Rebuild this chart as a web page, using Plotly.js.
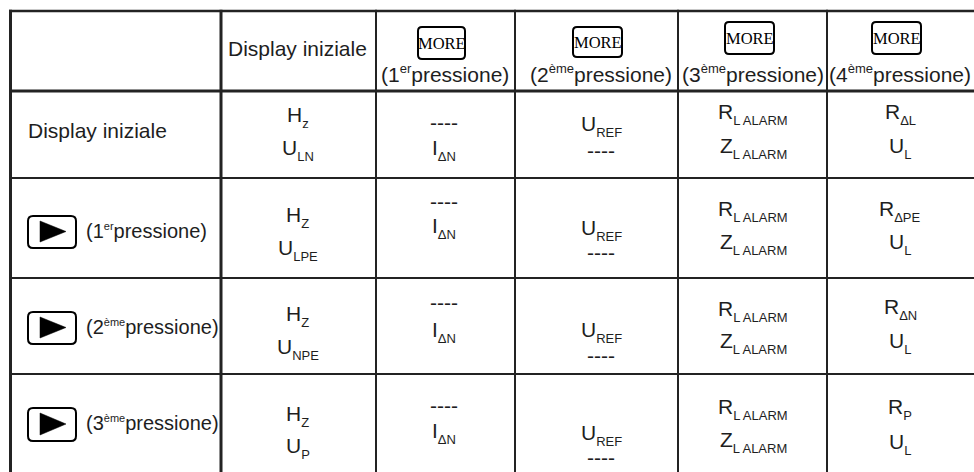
<!DOCTYPE html>
<html><head><meta charset="utf-8">
<script src="https://cdn.plot.ly/plotly-3.0.1.min.js"></script>
<style>html,body{margin:0;padding:0;background:#fff;}#chart{width:974px;height:472px;}</style>
</head><body><div id="chart"></div>
<script>
// ---------- content ----------
const firstStateLabel = 'Display iniziale';
const keyName = 'MORE';
const pressWord = 'pressione';
const headerOrdinals = ['1', '2', '3', '4'];
const headerSuffixes = ['er', 'ème', 'ème', 'ème'];
const rowOrdinals = ['1', '2', '3'];
const rowSuffixes = ['er', 'ème', 'ème'];
const cellsRow1 = [['H_z', 'U_LN'], ['----', 'I_ΔN'], ['U_REF', '----'], ['R_L ALARM', 'Z_L ALARM'], ['R_ΔL', 'U_L']];
const cellsRow2 = [['H_Z', 'U_LPE'], ['----', 'I_ΔN'], ['U_REF', '----'], ['R_L ALARM', 'Z_L ALARM'], ['R_ΔPE', 'U_L']];
const cellsRow3 = [['H_Z', 'U_NPE'], ['----', 'I_ΔN'], ['U_REF', '----'], ['R_L ALARM', 'Z_L ALARM'], ['R_ΔN', 'U_L']];
const cellsRow4 = [['H_Z', 'U_P'], ['----', 'I_ΔN'], ['U_REF', '----'], ['R_L ALARM', 'Z_L ALARM'], ['R_P', 'U_L']];
const bodyRows = [cellsRow1, cellsRow2, cellsRow3, cellsRow4];

// ---------- layout constants (positions / styles) ----------
const W = 974, H = 472;
const INK = '#1e1e1e';
const LINE = '#232323';
const SANS = '"Liberation Sans", Arial, sans-serif';
const SERIF = '"Liberation Serif", "Times New Roman", serif';
const hLines = [[11, 2.5], [91, 3], [178, 2], [278, 2], [374, 2]];
const vLines = [[10.5, 3], [221, 3], [376, 2], [515, 2], [678, 2], [827, 2]];
const colCenters = [297.5, 444, 601, 753, 900];
const lineYs = [
  [[114.5, 148], [124, 148], [123.5, 152], [112, 145.5], [112, 145.5]],
  [[214.5, 247.5], [203, 226], [227.5, 254], [209, 242], [209, 242]],
  [[313.5, 347], [304, 329.5], [329.5, 357], [309, 340.5], [306.5, 340.5]],
  [[413.5, 446], [407, 430.5], [433, 459], [407, 440], [407, 442]]
];
const keyBoxes = [[418, 27, 465, 59], [573, 27, 622, 57], [725, 22, 774, 54], [872, 22, 921, 54]];
const headerLine2X = [445, 600.5, 753, 900];
const headerLine2Y = 74.5;
const playBoxes = [[28, 216, 76, 248], [28, 312, 76, 344], [28, 408, 76, 441]];

function subFmt(s) {
  const i = s.indexOf('_');
  if (i < 0) return s;
  return s.slice(0, i) + '<span style="font-size:28px"><sub><span style="font-family:\'Liberation Sans Narrow\',\'Liberation Sans\',sans-serif;font-size:13px">' +
    s.slice(i + 1) + '</span></sub></span>';
}
function supFmt(ord, suf, size) {
  return '(' + ord + '<sup><span style="font-size:' + size + 'px">' + suf + '</span></sup>' + pressWord + ')';
}
function roundRect(b, r) {
  const [x0, y0, x1, y1] = b;
  return `M ${x0 + r},${y0} L ${x1 - r},${y0} Q ${x1},${y0} ${x1},${y0 + r} L ${x1},${y1 - r} Q ${x1},${y1} ${x1 - r},${y1} ` +
    `L ${x0 + r},${y1} Q ${x0},${y1} ${x0},${y1 - r} L ${x0},${y0 + r} Q ${x0},${y0} ${x0 + r},${y0} Z`;
}

const shapes = [];
const annotations = [];

// grid lines
hLines.forEach(([y, w]) => shapes.push({type: 'line', xref: 'x', yref: 'y', x0: 9, x1: W, y0: y, y1: y, line: {color: LINE, width: w}}));
vLines.forEach(([x, w]) => shapes.push({type: 'line', xref: 'x', yref: 'y', x0: x, x1: x, y0: 9.75, y1: H, line: {color: LINE, width: w}}));

// header
annotations.push({x: colCenters[0], y: 48.5, text: firstStateLabel, font: {family: SANS, size: 21, color: INK}});
keyBoxes.forEach((b, i) => {
  shapes.push({type: 'path', xref: 'x', yref: 'y', path: roundRect(b, 4), line: {color: '#000', width: 2}});
  annotations.push({x: (b[0] + b[2]) / 2, y: (b[1] + b[3]) / 2, text: keyName, font: {family: SERIF, size: 16.5, color: '#000'}});
  annotations.push({x: headerLine2X[i], y: headerLine2Y - 0.6, text: supFmt(headerOrdinals[i], headerSuffixes[i], 13),
    font: {family: SANS, size: 21, color: INK}});
});

// row labels
annotations.push({x: 26, y: 130, xanchor: 'left', text: firstStateLabel, font: {family: SANS, size: 21, color: INK}});
playBoxes.forEach((b, i) => {
  shapes.push({type: 'path', xref: 'x', yref: 'y', path: roundRect(b, 5), line: {color: '#000', width: 2}});
  const cy = (b[1] + b[3]) / 2;
  shapes.push({type: 'path', xref: 'x', yref: 'y', path: `M 40,${b[1] + 5} L 66,${cy - 0.5} L 40,${b[3] - 6} Z`,
    fillcolor: '#000', line: {color: '#000', width: 0.5}});
  annotations.push({x: 84, y: cy - 1.4, xanchor: 'left', text: supFmt(rowOrdinals[i], rowSuffixes[i], 11),
    font: {family: SANS, size: 20, color: INK}});
});

// body cells
bodyRows.forEach((row, r) => {
  row.forEach((cell, c) => {
    cell.forEach((txt, k) => {
      const yy = lineYs[r][c][k];
      const isDash = txt.indexOf('_') < 0;
      annotations.push({x: colCenters[c], y: isDash ? yy - 1.6 : yy + 2.3, text: subFmt(txt),
        font: {family: SANS, size: 21, color: INK}});
    });
  });
});

annotations.forEach(a => { a.xref = 'x'; a.yref = 'y'; a.showarrow = false; if (!a.xanchor) a.xanchor = 'center'; a.yanchor = 'middle'; });

const layout = {
  width: W, height: H,
  margin: {l: 0, r: 0, t: 0, b: 0, pad: 0},
  paper_bgcolor: '#fff', plot_bgcolor: '#fff',
  xaxis: {range: [0, W], visible: false, fixedrange: true},
  yaxis: {range: [H, 0], visible: false, fixedrange: true},
  showlegend: false,
  shapes: shapes,
  annotations: annotations
};
Plotly.newPlot('chart', [], layout, {staticPlot: true, displayModeBar: false});
</script>
</body></html>
